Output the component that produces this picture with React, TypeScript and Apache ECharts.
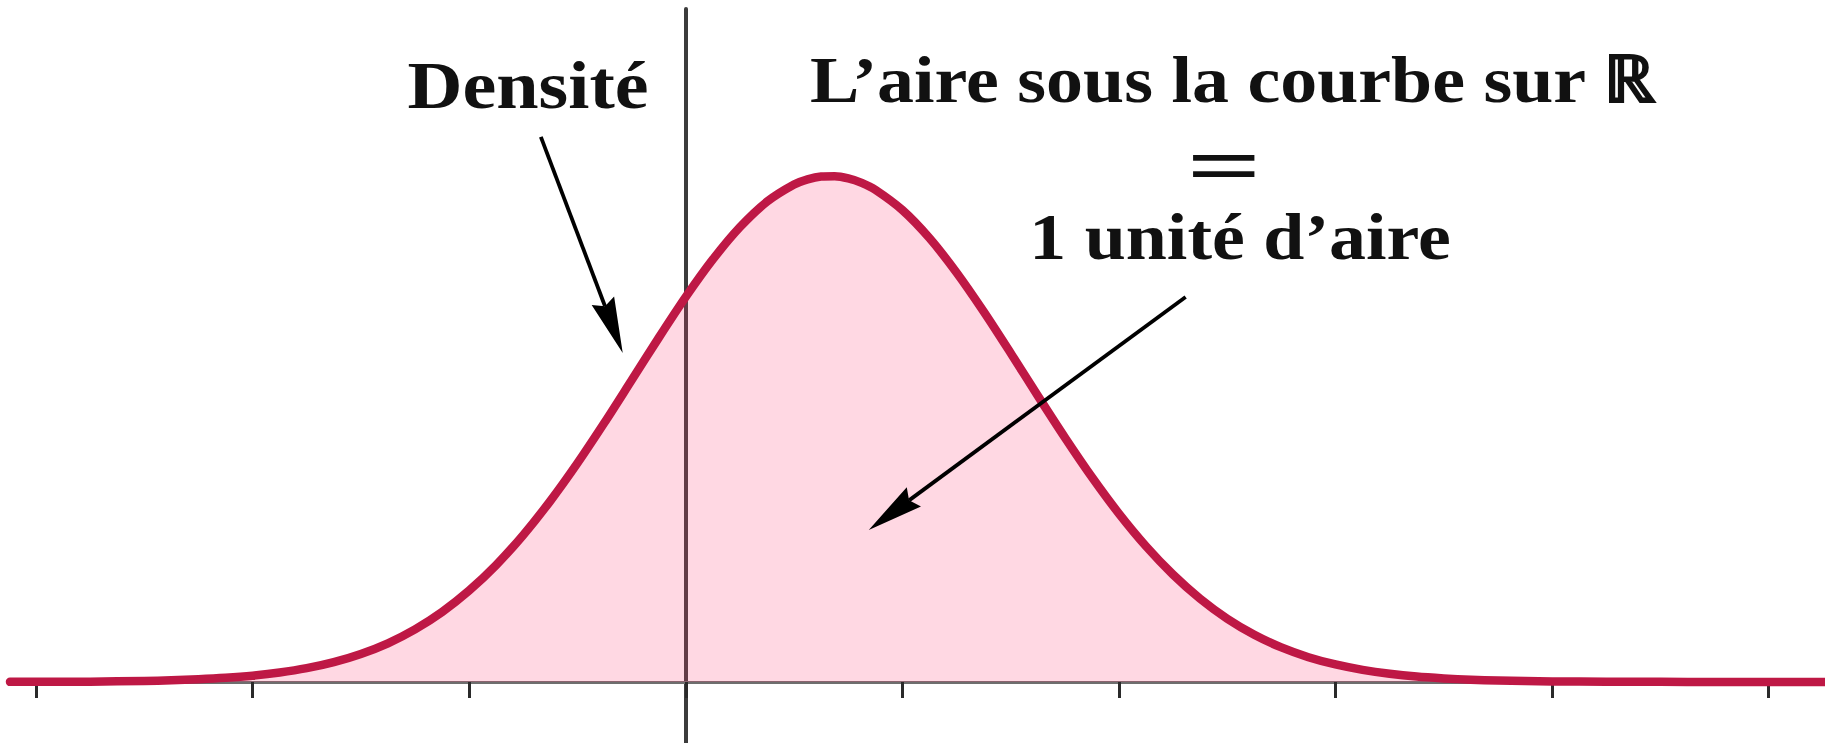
import React, { useEffect, useRef } from "react";
import * as echarts from "echarts";

// x positions (axis units) and density values
const xValues = [
  -3.12, -3, -2.75, -2.5, -2.375, -2.25, -2.125, -2, -1.875, -1.75, -1.625, -1.5,
  -1.375, -1.25, -1.125, -1, -0.875, -0.75, -0.625, -0.5, -0.375, -0.25, -0.125, 0,
  0.125, 0.25, 0.375, 0.5, 0.5625, 0.625, 0.6875, 0.75, 0.8125, 0.875, 1, 1.125,
  1.25, 1.375, 1.5, 1.625, 1.75, 1.875, 2, 2.125, 2.25, 2.375, 2.5, 2.625, 2.75,
  2.875, 3, 3.125, 3.25, 3.375, 3.5, 3.625, 3.75, 3.875, 4, 4.25, 4.5, 4.75, 5, 5.26,
];
const density = [
  0.0001, 0.0001, 0.0003, 0.0009, 0.0015, 0.0024, 0.0037, 0.0056, 0.0084, 0.0123,
  0.0177, 0.025, 0.0345, 0.0469, 0.0624, 0.0815, 0.1043, 0.1311, 0.1615, 0.1951,
  0.2313, 0.269, 0.3068, 0.3433, 0.3767, 0.4055, 0.4282, 0.4435, 0.4481, 0.4506,
  0.4509, 0.449, 0.445, 0.4389, 0.4208, 0.3958, 0.3651, 0.3304, 0.2933, 0.2553,
  0.2181, 0.1827, 0.1501, 0.121, 0.0957, 0.0742, 0.0564, 0.0421, 0.0308, 0.0221,
  0.0156, 0.0108, 0.0073, 0.0048, 0.0032, 0.002, 0.0013, 0.0008, 0.0005, 0.0002,
  0.0001, 0, 0, 0,
];
const tickValues = [-3, -2, -1, 0, 1, 2, 3, 4, 5];

// annotation arrows in data coordinates: [start, tip]
const arrowDensite = [[-0.669, 0.486], [-0.291, 0.2933]];
const arrowAire = [[2.308, 0.3433], [0.845, 0.1355]];

const labelDensite = "Densité";
const labelTitle = "L\u2019aire sous la courbe sur \u211D";
const labelEq = "=";
const labelUnit = "1 unité d\u2019aire";

export default function App() {
  const ref = useRef<HTMLDivElement>(null);

  useEffect(() => {
    if (!ref.current) return;
    const chart = echarts.init(ref.current, null, { renderer: "svg" });
    const option: any = {
      animation: false,
      backgroundColor: "#ffffff",
      grid: { left: 10, right: 0, top: 9, bottom: 0, containLabel: false },
      xAxis: {
        type: "value",
        min: -3.12,
        max: 5.26,
        axisLine: { show: true, onZero: true, lineStyle: { color: "#6e6e6e", width: 3 } },
        axisTick: {
          show: true,
          inside: false,
          length: 16,
          customValues: tickValues,
          lineStyle: { color: "#2a2a2a", width: 3 },
        },
        axisLabel: { show: false },
        splitLine: { show: false },
      },
      yAxis: {
        type: "value",
        min: -0.0544,
        max: 0.6,
        axisLine: { show: true, onZero: true, lineStyle: { color: "#3c3c3c", width: 4 } },
        axisTick: { show: false },
        axisLabel: { show: false },
        splitLine: { show: false },
      },
      series: [
        {
          type: "line",
          data: xValues.map((x, i) => [x, density[i]]),
          smooth: 0.3,
          showSymbol: false,
          symbol: "none",
          lineStyle: { color: "#be1845", width: 8.5, join: "round", cap: "round" },
          areaStyle: { color: "rgba(255,65,120,0.29)" },
        },
      ],
    };
    chart.setOption(option);

    const toPx = (p: number[]) => chart.convertToPixel({ gridIndex: 0 }, p) as number[];
    const makeArrow = (pts: number[][]) => {
      const s = toPx(pts[0]);
      const t = toPx(pts[1]);
      const dx = t[0] - s[0];
      const dy = t[1] - s[1];
      const len = Math.sqrt(dx * dx + dy * dy);
      const ux = dx / len;
      const uy = dy / len;
      const L = 56;
      const w = 12;
      const n = 6;
      const bx = t[0] - L * ux;
      const by = t[1] - L * uy;
      const px = -uy;
      const py = ux;
      return [
        {
          type: "line",
          shape: { x1: s[0], y1: s[1], x2: bx + n * ux, y2: by + n * uy },
          style: { stroke: "#000", lineWidth: 3.8 },
          z: 10,
        },
        {
          type: "polygon",
          shape: {
            points: [
              [t[0], t[1]],
              [bx + w * px, by + w * py],
              [bx + n * ux, by + n * uy],
              [bx - w * px, by - w * py],
            ],
          },
          style: { fill: "#000" },
          z: 10,
        },
      ];
    };

    const font = "Liberation Serif, Times New Roman, serif";
    const textEl = (text: string, x: number, y: number, size: number, sx: number, sy = 1) => ({
      type: "text",
      x,
      y,
      scaleX: sx,
      scaleY: sy,
      z: 10,
      style: {
        text,
        fill: "#111",
        font: `bold ${size}px ${font}`,
        fontFamily: font,
        fontWeight: "bold",
        fontSize: size,
        align: "center",
        verticalAlign: "middle",
      },
    });

    chart.setOption({
      graphic: [
        ...makeArrow(arrowDensite),
        ...makeArrow(arrowAire),
        textEl(labelDensite, 528, 85, 68, 1.12),
        textEl(labelTitle, 1233, 80, 66, 1.12),
        textEl(labelEq, 1224, 165, 66, 2.0, 1.25),
        textEl(labelUnit, 1240, 237, 66, 1.12),
      ],
    });

    return () => chart.dispose();
  }, []);

  return (
    <div
      ref={ref}
      style={{ position: "fixed", left: 0, top: 0, width: 1825, height: 743, background: "#fff" }}
    />
  );
}
